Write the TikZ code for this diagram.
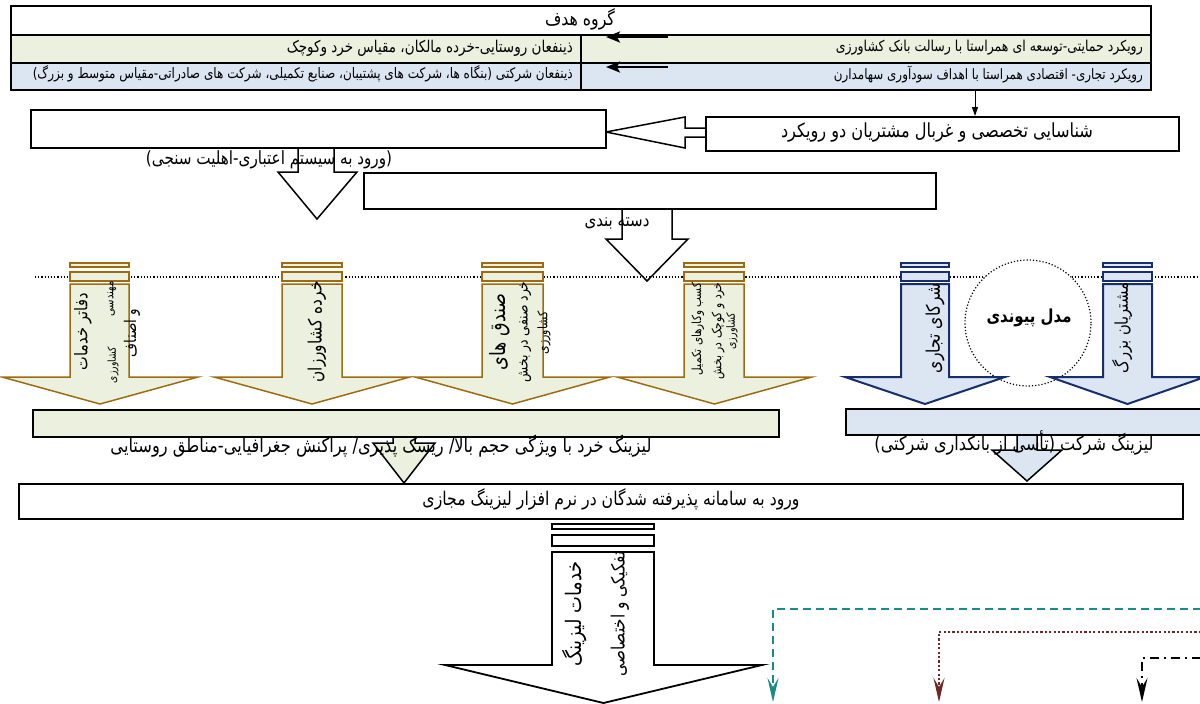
\documentclass[tikz,border=0pt]{standalone}
\usepackage{fontspec}
\usepackage{graphicx}
\usetikzlibrary{arrows.meta}
\newfontfamily\fa[Script=Arabic]{DejaVu Sans}
\TeXXeTstate=1
\definecolor{greenf}{RGB}{235,241,222}
\definecolor{bluef}{RGB}{220,230,242}
\definecolor{brownc}{RGB}{158,108,16}
\definecolor{navyc}{RGB}{22,45,110}
\definecolor{tealc}{RGB}{24,140,138}
\definecolor{maroonc}{RGB}{110,40,40}
\newcommand{\fw}[2]{\scalebox{1}[1.2]{\resizebox{#1}{!}{\fa #2}}}
\newcommand{\fwb}[2]{\scalebox{1}[1.2]{\resizebox{#1}{!}{\fa\bfseries #2}}}
\newcommand{\bararrow}[5]{%
  \draw[#1] (#2,263) rectangle (#3,267);
  \draw[#1] (#2,272) rectangle (#3,281);
  \draw[#1] (#2,284) -- (#2,377) -- (#4,377) -- ({(#4+#5)/2},404) -- (#5,377) -- (#3,377) -- (#3,284) -- cycle;}
\begin{document}
\begin{tikzpicture}[x=1pt,y=-1pt,
  tblcell/.style={draw, line width=1.8pt, inner sep=0pt, anchor=north west},
  plainbox/.style={draw, line width=1.5pt, inner sep=0pt, anchor=north west, fill=white},
  txt/.style={inner sep=0pt},
  vtxt/.style={inner sep=0pt, rotate=90},
  brownarrow/.style={draw=brownc, fill=greenf, line width=1.5pt},
  bluearrow/.style={draw=navyc, fill=bluef, line width=2pt},
  blackarrow/.style={draw=black, fill=white, line width=1.5pt},
  rowarrow/.style={line width=2.5pt, -{Stealth[length=14pt,width=11pt,inset=3pt]}},
  barb/.style={-{Stealth[length=24pt,width=11pt,inset=9pt]}}]
\useasboundingbox (0,0) rectangle (1200,704);
% table
\node[tblcell, minimum width=1140pt, minimum height=29pt] (tr1) at (10,5) {};
\node[tblcell, fill=greenf, minimum width=570pt, minimum height=28pt] (tr2l) at (10,34) {};
\node[tblcell, fill=greenf, minimum width=570pt, minimum height=28pt] (tr2r) at (580,34) {};
\node[tblcell, fill=bluef, minimum width=570pt, minimum height=27pt] (tr3l) at (10,62) {};
\node[tblcell, fill=bluef, minimum width=570pt, minimum height=27pt] (tr3r) at (580,62) {};
\coordinate (a1s) at (668,37); \coordinate (a1e) at (606,37);
\coordinate (a2s) at (668,67); \coordinate (a2e) at (606,67);
\draw[rowarrow] (a1s) -- (a1e);
\draw[rowarrow] (a2s) -- (a2e);
% screening box
\filldraw[blackarrow] (705,128) -- (685,128) -- (685,117) -- (606,132) -- (685,148) -- (685,137) -- (705,137);
\node[plainbox, minimum width=473pt, minimum height=34pt] (bsh) at (705,116) {};
\coordinate (va) at (975,89);
\draw[line width=1pt, -{Triangle[length=9pt,width=6pt]}] (va) -- (va |- bsh.north);
% box1 and arrow A
\filldraw[blackarrow] (298,147) -- (298,172) -- (278,172) -- (317,219) -- (357,172) -- (334,172) -- (334,147);
\node[plainbox, minimum width=575pt, minimum height=38pt] (b1) at (30,109) {};
% box2 and arrow B
\filldraw[blackarrow] (622,208) -- (622,239) -- (606,239) -- (647,281) -- (688,239) -- (672,239) -- (672,208);
\node[plainbox, minimum width=572pt, minimum height=36pt] (b2) at (363,172) {};
% dotted line and circle
\draw[line width=1.2pt, dotted] (35,277) -- (1200,277);
\node[circle, draw, fill=white, line width=1.2pt, dotted, minimum size=126pt, inner sep=0pt] (mp) at (1028,323) {};
% brown arrows
\bararrow{brownarrow}{70}{129}{2}{198}
\bararrow{brownarrow}{282}{342}{214}{410}
\bararrow{brownarrow}{482}{543}{415}{610}
\bararrow{brownarrow}{684}{744}{617}{812}
% blue arrows
\bararrow{bluearrow}{901}{949}{845}{1005}
\bararrow{bluearrow}{1103}{1152}{1050}{1205}
% arrows C, D
\filldraw[blackarrow, fill=greenf] (393,436) -- (393,443) -- (373,443) -- (404,483) -- (435,443) -- (415,443) -- (415,436);
\filldraw[blackarrow, fill=bluef] (1017,434) -- (1017,450) -- (992,450) -- (1027,481) -- (1062,450) -- (1037,450) -- (1037,434);
% green and blue boxes
\node[plainbox, fill=greenf, minimum width=746pt, minimum height=27pt] (gbox) at (32,409) {};
\node[plainbox, fill=bluef, minimum width=358pt, minimum height=26pt] (bbox) at (845,408) {};
% box3
\node[plainbox, minimum width=1164pt, minimum height=35pt] (b3) at (18,483) {};
% arrow E
\draw[blackarrow] (552,524) rectangle (654,529);
\draw[blackarrow] (552,535) rectangle (654,546);
\draw[blackarrow, line width=1.8pt] (552,552) -- (552,665) -- (445,665) -- (603.5,703) -- (762,665) -- (654,665) -- (654,552) -- cycle;
% dashed connectors
\coordinate (d1s) at (1201,609); \coordinate (d1e) at (773,702);
\coordinate (d2s) at (1201,632); \coordinate (d2e) at (939,702);
\coordinate (d3s) at (1201,658); \coordinate (d3e) at (1142,702);
\draw[tealc, line width=2.2pt, dash pattern=on 8pt off 5pt, barb] (d1s) -| (d1e);
\draw[maroonc, line width=2.2pt, dash pattern=on 2.2pt off 2.2pt, barb] (d2s) -| (d2e);
\draw[black, line width=2pt, dash pattern=on 9pt off 5pt on 2pt off 5pt, barb] (d3s) -| (d3e);
% texts
\node[txt] (t1) at (580,19) {\fw{70pt}{\beginR گروه هدف\endR}};
\node[txt, anchor=east] (t2l) at (573,48) {\fw{286pt}{\beginR ذینفعان روستایی-خرده مالکان، مقیاس خرد وکوچک\endR}};
\node[txt, anchor=east] (t2r) at (1143,48) {\fw{307pt}{\beginR رویکرد حمایتی-توسعه ای همراستا با رسالت بانک کشاورزی\endR}};
\node[txt, anchor=east] (t3l) at (573,74) {\fw{540pt}{\beginR ذینفعان شرکتی (بنگاه ها، شرکت های پشتیبان، صنایع تکمیلی، شرکت های صادراتی-مقیاس متوسط و بزرگ)\endR}};
\node[txt, anchor=east] (t3r) at (1143,75) {\fw{309pt}{\beginR رویکرد تجاری- اقتصادی همراستا با اهداف سودآوری سهامدارن\endR}};
\node[txt] (t4) at (937,132) {\fw{312pt}{\beginR شناسایی تخصصی و غربال مشتریان دو رویکرد\endR}};
\node[txt] (t5) at (269,160) {\fw{246pt}{\beginR (ورود به سیستم اعتباری-اهلیت سنجی)\endR}};
\node[txt] (t6) at (617,223) {\fw{65pt}{\beginR دسته بندی\endR}};
\node[txt] (t7) at (381,446) {\fw{541pt}{\beginR لیزینگ خرد با ویژگی حجم بالا/ ریسک پذیری/ پراکنش جغرافیایی-مناطق روستایی\endR}};
\node[txt] (t8) at (1014,443) {\fw{279pt}{\beginR لیزینگ شرکت (تأسی از بانکداری شرکتی)\endR}};
\node[txt] (t9) at (611,499) {\fw{377pt}{\beginR ورود به سامانه پذیرفته شدگان در نرم افزار لیزینگ مجازی\endR}};
\node[txt] (t10) at (1029,318) {\fwb{85pt}{\beginR مدل پیوندی\endR}};
\node[vtxt] (r1a) at (83,332) {\fw{77pt}{\beginR دفاتر خدمات\endR}};
\node[vtxt] (r1b) at (112,299) {\fw{35pt}{\beginR مهندسی\endR}};
\node[vtxt] (r1c) at (113,365) {\fw{36pt}{\beginR کشاورزی\endR}};
\node[vtxt] (r1d) at (132,333) {\fw{48pt}{\beginR و اصناف\endR}};
\node[vtxt] (r2) at (317,332) {\fw{101pt}{\beginR خرده کشاورزان\endR}};
\node[vtxt] (r3a) at (500,332) {\fw{77pt}{\beginR صندق های\endR}};
\node[vtxt] (r3b) at (525,332) {\fw{101pt}{\beginR خرد صنفی در بخش\endR}};
\node[vtxt] (r3c) at (544,333) {\fw{43pt}{\beginR کشاورزی\endR}};
\node[vtxt] (r4a) at (698,329) {\fw{92pt}{\beginR کسب وکارهای تکمیل\endR}};
\node[vtxt] (r4b) at (718,331) {\fw{97pt}{\beginR خرد و کوچک در بخش\endR}};
\node[vtxt] (r4c) at (732,331) {\fw{37pt}{\beginR کشاورزی\endR}};
\node[vtxt] (r5) at (935,328) {\fw{90pt}{\beginR شرکای تجاری\endR}};
\node[vtxt] (r6) at (1122,328) {\fw{90pt}{\beginR مشتریان بزرگ\endR}};
\node[vtxt] (r7a) at (575,614) {\fw{105pt}{\beginR خدمات لیزینگ\endR}};
\node[vtxt] (r7b) at (620,614) {\fw{125pt}{\beginR تفکیکی و اختصاصی\endR}};
\end{tikzpicture}
\end{document}
